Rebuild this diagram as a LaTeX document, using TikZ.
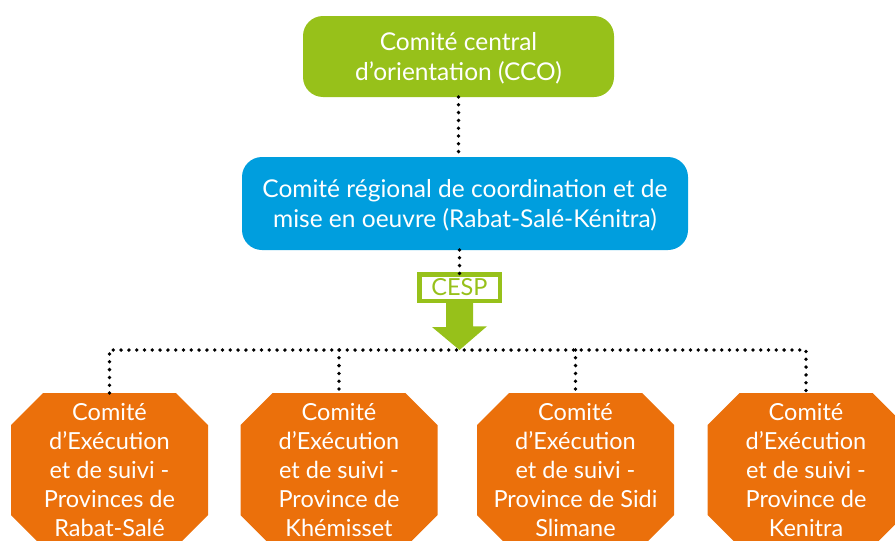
\documentclass[tikz,border=0pt]{standalone}
\usepackage{fontspec}
\setmainfont{Lato}
\usetikzlibrary{calc,backgrounds}
\definecolor{ccogreen}{HTML}{97C11A}
\definecolor{crblue}{HTML}{009EDE}
\definecolor{exorange}{HTML}{EB700B}
\begin{document}
\begin{tikzpicture}[x=1pt,y=-1pt,
  topbox/.style={rounded corners=20pt, text=white, align=center, inner sep=0pt, outer sep=0pt,
    text depth=0pt, font=\fontsize{24.5}{29.5}\selectfont},
  octo/.style={rectangle, text=white, align=center, minimum width=197pt, minimum height=154pt,
    inner sep=0pt, outer sep=0pt, font=\fontsize{23.5}{29}\selectfont},
  dotline/.style={line width=3.8pt, line cap=round, dash pattern=on 0pt off 7.8pt},
]
\useasboundingbox (0,0) rectangle (895,541);
\clip (0,0) rectangle (895,541);

\node[topbox, fill=ccogreen, minimum width=311pt, minimum height=81pt] (cco) at (458.5,56.5)
  {Comité central\\d’orientation (CCO)};
\node[topbox, fill=crblue, minimum width=446pt, minimum height=93pt] (crco) at (465,203.5)
  {Comité régional de coordination et de\\mise en oeuvre (Rabat-Salé-Kénitra)};

\node[draw=ccogreen, line width=4.5pt, fill=white, text=ccogreen, minimum width=80.5pt,
  minimum height=26.5pt, inner sep=0pt, outer sep=0pt, font=\fontsize{23.5}{24}\selectfont]
  (cesp) at (459.5,287.5) {CESP};

\node[octo] (o1) at (109.5,470) {Comité\\d’Exécution\\et de suivi -\\Provinces de\\Rabat-Salé};
\node[octo] (o2) at (339,470) {Comité\\d’Exécution\\et de suivi -\\Province de\\Khémisset};
\node[octo] (o3) at (575.5,470) {Comité\\d’Exécution\\et de suivi -\\Province de Sidi\\Slimane};
\node[octo] (o4) at (806,470) {Comité\\d’Exécution\\et de suivi -\\Province de\\Kenitra};

\begin{scope}[on background layer]
\foreach \n in {o1,o2,o3,o4}{
  \fill[exorange] ($(\n.north west)+(32,0)$) -- ($(\n.north east)+(-32,0)$)
    -- ($(\n.north east)+(0,32)$) -- ($(\n.south east)+(0,-32)$)
    -- ($(\n.south east)+(-32,0)$) -- ($(\n.south west)+(32,0)$)
    -- ($(\n.south west)+(0,-32)$) -- ($(\n.north west)+(0,32)$) -- cycle;
}
\end{scope}

\coordinate (tip) at (459.5,350);

\draw[dotline] (cco.south) -- (cco.south |- crco.north);
\draw[dotline] (cesp.north |- crco.south) -- (cesp.north);
\draw[dotline] (o1.north) -- (o1.north |- tip) -- (o4.north |- tip) -- (o4.north);
\draw[dotline] (o2.north |- tip) -- (o2.north);
\draw[dotline] (o3.north |- tip) -- (o3.north);

\fill[ccogreen] (cesp.south) ++(-13.5,0) -- ++(27,0) -- ++(0,25.5) -- ++(14,0)
  -- (tip) -- ++(-27.5,-23) -- ++(14,0) -- cycle;
\end{tikzpicture}
\end{document}
